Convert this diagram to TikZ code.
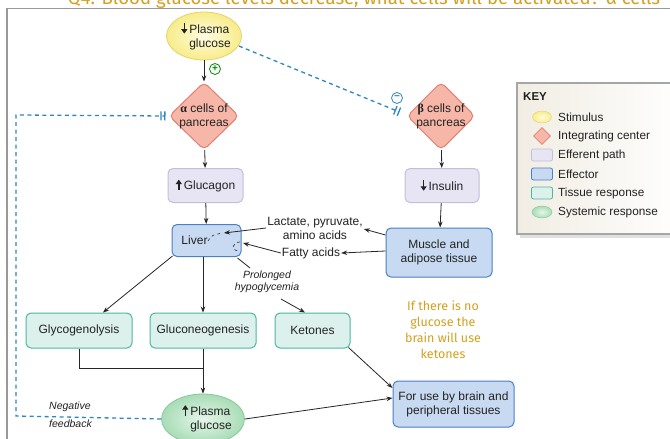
\documentclass[tikz,border=0pt]{standalone}
\usepackage{fontspec}
\setmainfont{Liberation Sans}
\newfontfamily\notefont{Fira Sans}
\newfontfamily\grkfont{Liberation Serif}
\usetikzlibrary{shapes.geometric,arrows.meta,calc}
\definecolor{titleor}{HTML}{D4A020}
\definecolor{dblue}{HTML}{2F87BF}
\definecolor{stimfill}{HTML}{F8EC8A}
\definecolor{stimin}{HTML}{FFFCE0}
\definecolor{stimdraw}{HTML}{E2D36E}
\definecolor{intfill}{HTML}{F6B7A8}
\definecolor{intdraw}{HTML}{E07F72}
\definecolor{efffill}{HTML}{E7E4F3}
\definecolor{effdraw}{HTML}{C4BEDC}
\definecolor{ectfill}{HTML}{C8DAF1}
\definecolor{ectdraw}{HTML}{4A80C4}
\definecolor{tisfill}{HTML}{DDF1EC}
\definecolor{tisdraw}{HTML}{4BB7A0}
\definecolor{sysout}{HTML}{A8DCB6}
\definecolor{sysin}{HTML}{E6F6EA}
\definecolor{sysdraw}{HTML}{86C79A}
\definecolor{keybg}{HTML}{F1EDE3}
\definecolor{txt}{HTML}{222222}
\newcommand\myDn{\tikz[baseline=0pt,x=1pt,y=1pt]\draw[line width=1.5pt,-{Triangle[length=4.5pt,width=6pt]}] (0,10) -- (0,-0.5);}
\newcommand\myUp{\tikz[baseline=0pt,x=1pt,y=1pt]\draw[line width=1.5pt,-{Triangle[length=4.5pt,width=6pt]}] (0,-0.5) -- (0,10);}
\begin{document}
\begin{tikzpicture}[x=1pt,y=-1pt,
  font=\fontsize{12}{14}\selectfont, text=txt,
  conn/.style={draw=black!85, line width=0.8pt, -{Stealth[length=6pt,width=4.5pt]}},
  plain/.style={draw=black!85, line width=0.8pt},
  fb/.style={draw=dblue, line width=1.3pt, dash pattern=on 4pt off 3.5pt},
  bars/.style={-{Bar[width=9pt,line width=1.3pt,sep=2.5pt]Bar[width=9pt,line width=1.3pt]}},
  stim/.style={ellipse, draw=stimdraw, line width=0.8pt, inner color=stimin, outer color=stimfill, inner sep=0pt},
  integ/.style={diamond, draw=intdraw, fill=intfill, line width=1pt, rounded corners=5pt, inner sep=-4pt, align=center},
  effpath/.style={rectangle, rounded corners=5pt, draw=effdraw, fill=efffill, line width=1pt},
  effector/.style={rectangle, rounded corners=5pt, draw=ectdraw, fill=ectfill, line width=1pt, align=center},
  tissue/.style={rectangle, rounded corners=5pt, draw=tisdraw, fill=tisfill, line width=1pt},
  sysresp/.style={ellipse, draw=sysdraw, line width=0.8pt, inner color=sysin, outer color=sysout, inner sep=0pt},
  sign/.style={circle, line width=0.8pt, inner sep=0pt, minimum size=11pt, fill=white},
  lbl/.style={align=center, inner sep=1pt},
  itl/.style={font=\fontsize{10.5}{12.5}\selectfont\itshape, align=center, inner sep=1pt},
  keytxt/.style={anchor=west, inner sep=0pt, font=\fontsize{11.8}{13}\selectfont}
]
\useasboundingbox (0,0) rectangle (670,439);
\clip (0,0) rectangle (670,439);
\fill[white] (0,0) rectangle (670,439);

% frame and title
\draw[black!40, line width=1.6pt] (7,445) -- (7,8.5) -- (680,8.5);
\node[anchor=base, text=titleor, font=\notefont\fontsize{18.6}{22}\selectfont, inner sep=0pt] (title) at (364,4.5)
  {Q4: Blood glucose levels decrease, what cells will be activated? α cells};

% key
\fill[black!12] (520,86) rectangle (680,238);
\path[draw=black!35, line width=1.2pt, left color=keybg, right color=white!97!keybg] (517,83) rectangle (680,234);
\node[anchor=west, inner sep=0pt, font=\fontsize{11.5}{13}\selectfont\bfseries] (keyt) at (523,97) {KEY};
\node[ellipse, draw=stimdraw, inner color=stimin, outer color=stimfill, minimum width=19pt, minimum height=12pt, inner sep=0pt] (k1) at (542,117) {};
\node[diamond, draw=intdraw, fill=intfill, minimum width=17pt, minimum height=17pt, inner sep=0pt, line width=0.8pt] (k2) at (542,136) {};
\node[rectangle, rounded corners=2pt, draw=effdraw, fill=efffill, minimum width=21pt, minimum height=12pt, inner sep=0pt, line width=0.8pt] (k3) at (542,155) {};
\node[rectangle, rounded corners=2pt, draw=ectdraw, fill=ectfill, minimum width=21pt, minimum height=12pt, inner sep=0pt, line width=0.8pt] (k4) at (542,174) {};
\node[rectangle, rounded corners=2pt, draw=tisdraw, fill=tisfill, minimum width=21pt, minimum height=12pt, inner sep=0pt, line width=0.8pt] (k5) at (542,193) {};
\node[ellipse, draw=sysdraw, inner color=sysin, outer color=sysout, minimum width=20pt, minimum height=12pt, inner sep=0pt] (k6) at (542,212) {};
\node[keytxt] (kt1) at (558,117) {Stimulus};
\node[keytxt] (kt2) at (558,136) {Integrating center};
\node[keytxt] (kt3) at (558,155) {Efferent path};
\node[keytxt] (kt4) at (558,174) {Effector};
\node[keytxt] (kt5) at (558,193) {Tissue response};
\node[keytxt] (kt6) at (558,212) {Systemic response};

% main nodes
\node[stim, minimum width=75pt, minimum height=48pt] (pg) at (204,36) {};
\node[align=left, inner sep=0pt] (pgt) at (210,36) {\llap{\myDn\,}Plasma\\glucose};
\node[integ, minimum width=70pt, minimum height=68pt] (ac) at (204,116) {{\grkfont\bfseries α} cells of\\pancreas};
\node[integ, minimum width=68pt, minimum height=68pt] (bc) at (441,116) {{\grkfont\bfseries β} cells of\\pancreas};
\node[effpath, minimum width=75pt, minimum height=34pt] (glucagon) at (205.5,185.5) {\myUp\,Glucagon};
\node[effpath, minimum width=74pt, minimum height=34pt] (insulin) at (442,185.5) {\myDn\,Insulin};
\node[effector, minimum width=69pt, minimum height=32pt] (liver) at (206.5,240.5) {Liver\hspace*{24pt}};
\node[effector, minimum width=106pt, minimum height=49pt] (muscle) at (439,252.5) {Muscle and\\adipose tissue};
\node[lbl] (lact) at (315,228) {Lactate, pyruvate,\\amino acids};
\node[lbl] (fatty) at (311,253) {Fatty acids};
\node[itl] (prol) at (267,282) {Prolonged\\hypoglycemia};
\node[tissue, minimum width=106pt, minimum height=35pt] (glyco) at (79,330.5) {Glycogenolysis};
\node[tissue, minimum width=106pt, minimum height=35pt] (gneo) at (203,330.5) {Gluconeogenesis};
\node[tissue, minimum width=75pt, minimum height=35pt] (ket) at (312.5,330.5) {Ketones};
\node[sysresp, minimum width=83pt, minimum height=50pt] (gp) at (203,419) {};
\node[align=left, inner sep=0pt] (gpt) at (211,418) {\llap{\myUp\,}Plasma\\glucose};
\node[effector, minimum width=121pt, minimum height=46pt] (use) at (453.5,404) {For use by brain and\\peripheral tissues};
\node[align=center, text=titleor, font=\notefont\fontsize{12.5}{15.8}\selectfont, inner sep=0pt] (note) at (443,329.5) {If there is no\\glucose the\\brain will use\\ketones};
\node[itl, anchor=west] (neg) at (48,407) {Negative};
\node[itl, anchor=west] (feed) at (48,424) {feedback};

% signs
\node[sign, draw=green!55!black, text=green!55!black] (plus) at (215,69) {\fontsize{10}{10}\selectfont\bfseries +};
\node[sign, draw=dblue, text=dblue] (minus) at (397,98) {\fontsize{10}{10}\selectfont\bfseries −};

% coordinates
\coordinate (liverin1) at (224,233);
\coordinate (liverin2) at (243,243);
\coordinate (fbcorner1) at (16,416);
\coordinate (fbcorner2) at (16,115);
\coordinate (prolA) at (250,268);
\coordinate (prolB) at (281,299);
\coordinate (join) at (203,368);
\coordinate (glycodown) at (79,368);

% connectors
\draw[conn] (pg) -- (ac);
\draw[conn] (ac) -- (glucagon);
\draw[conn] (glucagon) -- (liver);
\draw[conn] (bc) -- (insulin);
\draw[conn] (insulin) -- (muscle);
\draw[conn] (muscle.west |- 0,235) -- (lact.east |- 0,229);
\draw[conn] (muscle.west |- 0,251) -- (fatty.east);
\draw[conn] (lact.west |- 0,228) -- (liverin1);
\draw[conn] (fatty.west) -- (liverin2);
\draw[dashed, black!75, line width=0.7pt] (208,241) .. controls (212,235) .. (223,233);
\draw[dashed, black!75, line width=0.7pt] (240,242) .. controls (232,242) and (231,250) .. (238,251);
\draw[conn] (liver.south west) ++(1,-1) -- (glyco.north east -| 103,0);
\draw[conn] (liver.south -| gneo.north) -- (gneo.north);
\draw[plain] (liver.south east) ++(-4,1) -- (prolA);
\draw[conn] (prolB) -- (ket.north -| 305,0);
\draw[plain] (glyco.south) -- (glycodown) -- (join);
\draw[conn] (gneo.south) -- (gp.north);
\draw[conn] (ket.south east) ++(-2,-1) -- (use.west |- 0,388);
\draw[conn] (gp.east) -- (use.west |- 0,398);

% feedback dashed lines
\draw[fb, bars] (pg.east |- 0,46) ++(-3,0) -- ($(bc.west)+(-7,-4)$);
\draw[fb, bars] (gp.west) -- (fbcorner1) -- (fbcorner2) -- ($(ac.west)+(-3,0)$);
\end{tikzpicture}
\end{document}
